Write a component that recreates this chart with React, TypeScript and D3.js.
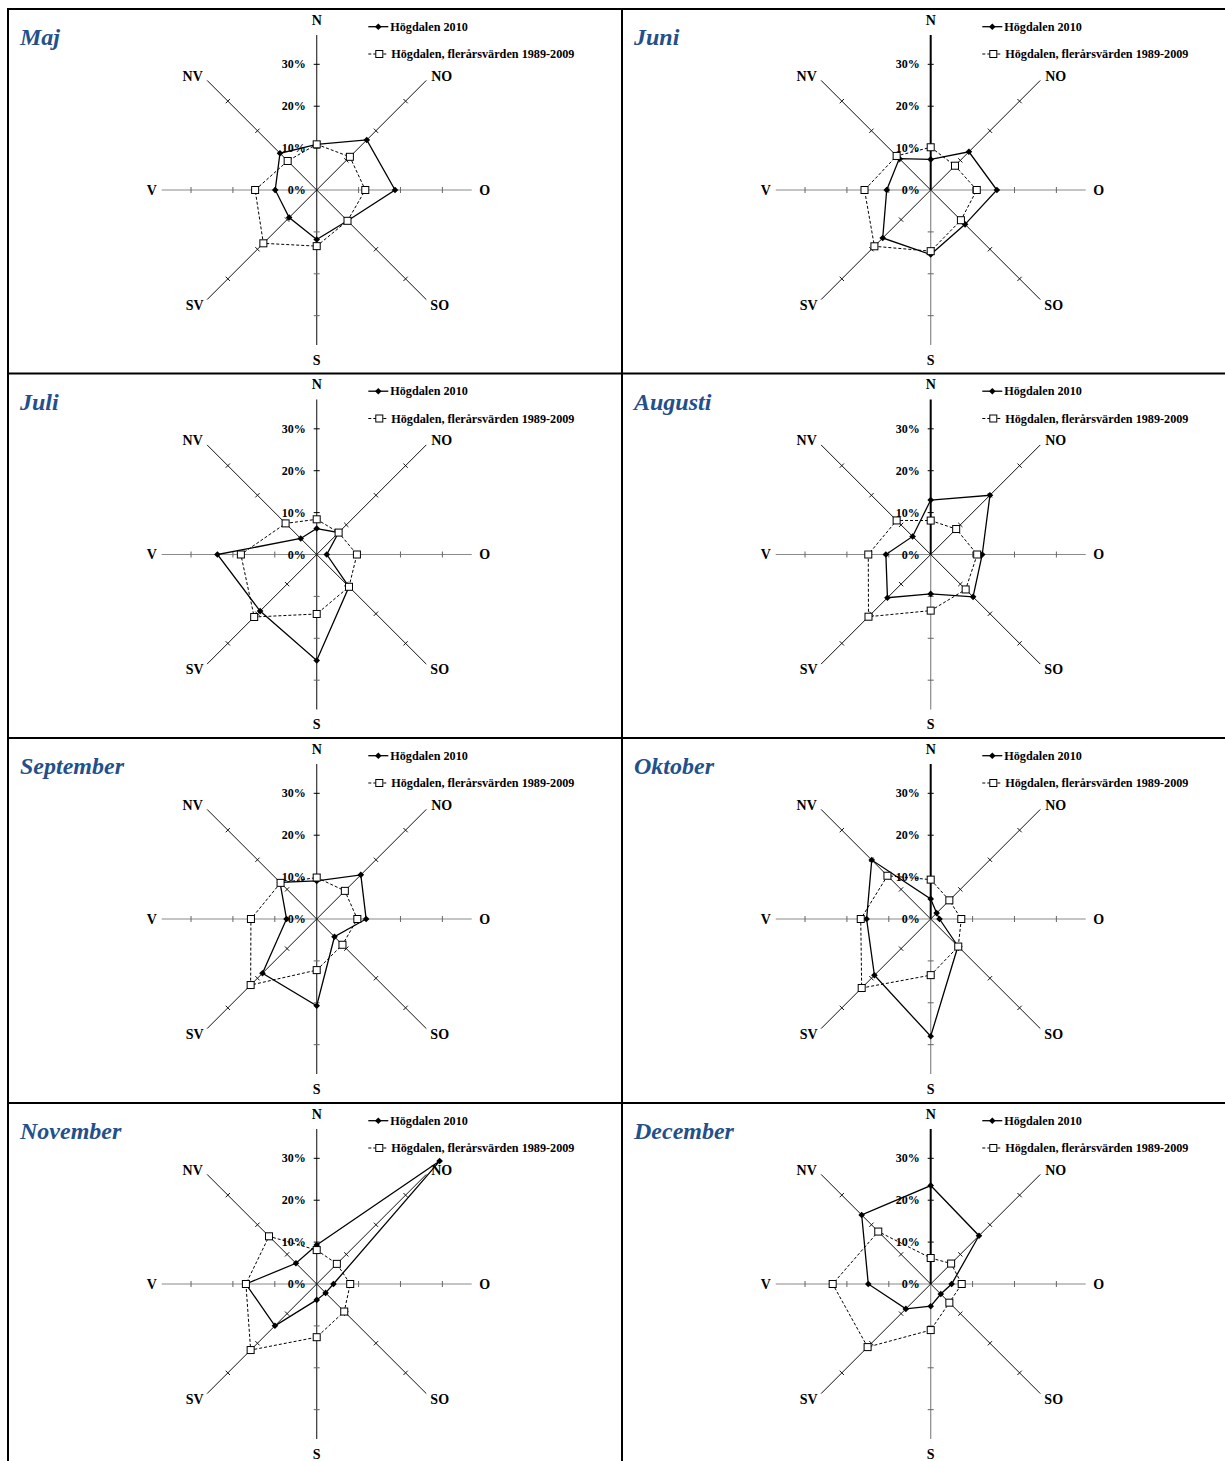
import React from "react";
import * as d3 from "d3";

const directions = ["N", "NO", "O", "SO", "S", "SV", "V", "NV"];
const months = ["Maj", "Juni", "Juli", "Augusti", "September", "Oktober", "November", "December"];
const tickValues = [0, 10, 20, 30];
const seriesNames = ["Högdalen 2010", "Högdalen, flerårsvärden 1989-2009"];

const maj2010 = [10.9, 16.9, 18.7, 10.4, 11.8, 9.3, 9.9, 12.4];
const majNormal = [10.9, 11.2, 11.6, 10.4, 13.4, 18.0, 14.7, 9.8];
const juni2010 = [7.3, 12.9, 15.8, 11.6, 15.4, 16.2, 10.5, 10.6];
const juniNormal = [10.2, 8.2, 11.0, 10.2, 14.6, 19.0, 15.8, 11.5];
const juli2010 = [6.2, 7.4, 2.4, 10.9, 25.3, 19.1, 23.7, 5.4];
const juliNormal = [8.4, 7.4, 9.6, 10.9, 14.2, 21.1, 18.1, 10.5];
const aug2010 = [13.0, 20.0, 12.3, 14.3, 9.4, 14.6, 10.7, 6.1];
const augNormal = [8.1, 8.6, 11.1, 11.8, 13.4, 21.0, 14.9, 11.5];
const sep2010 = [9.1, 14.9, 11.8, 6.0, 20.7, 18.3, 7.2, 12.4];
const sepNormal = [9.9, 9.5, 9.7, 8.7, 12.2, 22.3, 15.7, 12.2];
const okt2010 = [4.8, 2.0, 2.1, 9.2, 28.0, 19.0, 15.3, 19.9];
const oktNormal = [9.4, 6.3, 7.3, 9.3, 13.4, 23.3, 16.7, 14.6];
const nov2010 = [9.3, 41.5, 4.0, 3.0, 3.8, 14.1, 16.9, 7.0];
const novNormal = [8.1, 6.8, 8.0, 9.3, 12.7, 22.3, 16.9, 16.1];
const dec2010 = [23.5, 16.3, 5.0, 3.4, 5.3, 8.4, 14.9, 23.3];
const decNormal = [6.2, 6.9, 7.4, 6.3, 11.0, 21.3, 23.4, 17.7];

const values2010 = [maj2010, juni2010, juli2010, aug2010, sep2010, okt2010, nov2010, dec2010];
const valuesNormal = [majNormal, juniNormal, juliNormal, augNormal, sepNormal, oktNormal, novNormal, decNormal];

const W = 1225;
const H = 1461;
const colX = [8, 622];
const rowY = [9, 373.5, 738, 1103];
const serif = "'Liberation Serif', 'Times New Roman', serif";

const r = d3.scaleLinear().domain([0, 37]).range([0, 155]);
const angle = (i: number) => (i * Math.PI) / 4;
const pt = (i: number, v: number): [number, number] => [
  Math.sin(angle(i)) * r(v),
  -Math.cos(angle(i)) * r(v),
];
const radial = d3
  .lineRadial<number>()
  .angle((_d, i) => angle(i))
  .radius((d) => r(d))
  .curve(d3.curveLinearClosed);

const labelPos: [number, number][] = [
  [0, -170],
  [125, -114],
  [168, 0],
  [123, 115],
  [0, 170],
  [-122, 115],
  [-165, 0],
  [-124, -114],
];

function Diamond({ x, y }: { x: number; y: number }) {
  const s = 3.3;
  return <path d={`M${x},${y - s}L${x + s},${y}L${x},${y + s}L${x - s},${y}Z`} fill="#000" />;
}
function Square({ x, y }: { x: number; y: number }) {
  const s = 3.5;
  return <rect x={x - s} y={y - s} width={2 * s} height={2 * s} fill="#fff" stroke="#000" strokeWidth={1} />;
}

function Panel({ idx }: { idx: number }) {
  const col = idx % 2;
  const row = Math.floor(idx / 2);
  const left = colX[col];
  const top = rowY[row];
  const cx = left + 308.7;
  const cy = top + 181;
  const R = r(37);
  const a = values2010[idx];
  const b = valuesNormal[idx];
  const ticks = tickValues.filter((t) => t > 0);
  return (
    <g>
      <text x={left + 12} y={top + 36} fontFamily={serif} fontSize={24} fontWeight="bold" fontStyle="italic" fill="#23508C">
        {months[idx]}
      </text>
      <g transform={`translate(${cx},${cy})`}>
        <line x1={-R} y1={0} x2={R} y2={0} stroke="#8a8a8a" strokeWidth={1.2} />
        {col === 0 ? (
          <line x1={0} y1={-R} x2={0} y2={R} stroke="#333" strokeWidth={1.2} />
        ) : (
          <g>
            <line x1={0} y1={0} x2={0} y2={R} stroke="#8a8a8a" strokeWidth={1.2} />
            <line x1={0} y1={0} x2={0} y2={-R} stroke="#000" strokeWidth={2} />
          </g>
        )}
        {[1, 3, 5, 7].map((i) => {
          const [x, y] = pt(i, 37);
          return <line key={i} x1={0} y1={0} x2={x} y2={y} stroke="#111" strokeWidth={1} />;
        })}
        {directions.map((_d, i) =>
          ticks.map((t) => {
            const [x, y] = pt(i, t);
            const px = Math.cos(angle(i)) * 3;
            const py = Math.sin(angle(i)) * 3;
            const stroke = i % 4 === 2 || i % 4 === 0 ? (i === 0 ? "#000" : "#666") : "#111";
            return (
              <line key={`${i}-${t}`} x1={x - px} y1={y - py} x2={x + px} y2={y + py} stroke={stroke} strokeWidth={1} />
            );
          })
        )}
        {tickValues.map((t) => (
          <text key={t} x={-11} y={-r(t)} textAnchor="end" dominantBaseline="central" fontFamily={serif} fontSize={12} fontWeight="bold" fill="#000">
            {`${t}%`}
          </text>
        ))}
        {directions.map((d, i) => (
          <text key={d} x={labelPos[i][0]} y={labelPos[i][1]} textAnchor="middle" dominantBaseline="central" fontFamily={serif} fontSize={14} fontWeight="bold" fill="#000">
            {d}
          </text>
        ))}
        <path d={radial(a) || ""} fill="none" stroke="#000" strokeWidth={1.3} />
        {a.map((v, i) => {
          const [x, y] = pt(i, v);
          return <Diamond key={`d${i}`} x={x} y={y} />;
        })}
        <path d={radial(b) || ""} fill="none" stroke="#000" strokeWidth={1} strokeDasharray="3,2" />
        {b.map((v, i) => {
          const [x, y] = pt(i, v);
          return <Square key={`s${i}`} x={x} y={y} />;
        })}
        <g transform="translate(51.6,-163.3)">
          <line x1={0} y1={0} x2={20} y2={0} stroke="#000" strokeWidth={1.3} />
          <Diamond x={10} y={0} />
          <text x={22} y={0} dominantBaseline="central" fontFamily={serif} fontSize={12.2} fontWeight="bold" fill="#000">
            {seriesNames[0]}
          </text>
        </g>
        <g transform="translate(51.6,-136)">
          <line x1={0} y1={0} x2={20} y2={0} stroke="#000" strokeWidth={1} strokeDasharray="3,2" />
          <Square x={11} y={0} />
          <text x={23} y={0} dominantBaseline="central" fontFamily={serif} fontSize={12.2} fontWeight="bold" fill="#000">
            {seriesNames[1]}
          </text>
        </g>
      </g>
    </g>
  );
}

export default function App() {
  return (
    <div style={{ position: "absolute", left: 0, top: 0 }}>
      <svg width={W} height={H} style={{ display: "block", background: "#fff" }}>
        <rect x={0} y={0} width={W} height={H} fill="#fff" />
        {months.map((_m, i) => (
          <Panel key={i} idx={i} />
        ))}
        {colX.map((x) => (
          <line key={`v${x}`} x1={x} y1={rowY[0] - 1} x2={x} y2={H} stroke="#000" strokeWidth={2} />
        ))}
        {rowY.map((y) => (
          <line key={`h${y}`} x1={colX[0] - 1} y1={y} x2={W} y2={y} stroke="#000" strokeWidth={2} />
        ))}
      </svg>
    </div>
  );
}
